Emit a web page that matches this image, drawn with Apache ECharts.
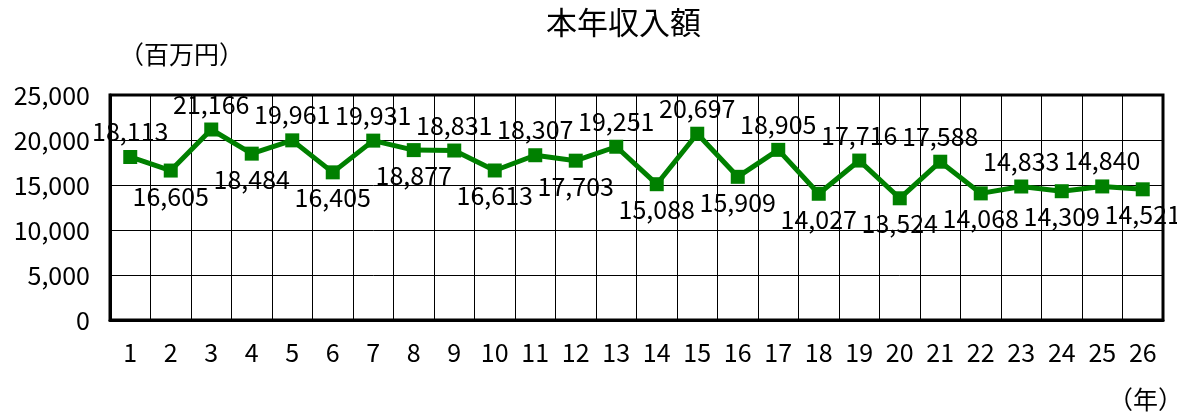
<!DOCTYPE html>
<html>
<head>
<meta charset="utf-8">
<script src="https://cdn.jsdelivr.net/npm/echarts@6/dist/echarts.min.js"></script>
<style>
  html, body { margin: 0; padding: 0; background: #fff; }
  #main { width: 1177px; height: 414px; }
</style>
</head>
<body>
<div id="main"></div>
<script>
// 年（カテゴリ）
var years = ['1','2','3','4','5','6','7','8','9','10','11','12','13','14','15','16','17','18','19','20','21','22','23','24','25','26'];
// 本年収入額（百万円）
var income = [18113,16605,21166,18484,19961,16405,19931,18877,18831,16613,18307,17703,19251,15088,20697,15909,18905,14027,17716,13524,17588,14068,14833,14309,14840,14521];
var yTicks = [0, 5000, 10000, 15000, 20000, 25000];

var font = '"Noto Sans CJK JP", "Noto Sans", sans-serif';
var chart = echarts.init(document.getElementById('main'));

// 奇数番目は上、偶数番目は下にラベル
var seriesData = income.map(function (v, i) {
  return {
    value: v,
    label: { position: i % 2 === 0 ? 'top' : 'bottom' }
  };
});

var option = {
  backgroundColor: '#fff',
  animation: false,
  title: [
    { text: '本年収入額', left: 541, top: 2,
      textStyle: { fontFamily: font, fontSize: 31, fontWeight: 'normal', color: '#000' } },
    { text: '（百万円）', left: 114, top: 37,
      textStyle: { fontFamily: font, fontSize: 25, fontWeight: 'normal', color: '#000' } },
    { text: '（年）', left: 1103, top: 382,
      textStyle: { fontFamily: font, fontSize: 25, fontWeight: 'normal', color: '#000' } }
  ],
  grid: {
    left: 110, right: 14, top: 95, bottom: 94,
    show: true, borderColor: '#000', borderWidth: 3,
    containLabel: false
  },
  xAxis: {
    type: 'category',
    data: years,
    boundaryGap: true,
    axisLine: { show: true, lineStyle: { color: '#000', width: 3 } },
    axisTick: { show: false },
    splitLine: { show: true, interval: 0, lineStyle: { color: '#000', width: 1 } },
    axisLabel: { interval: 0, margin: 20, color: '#000', fontFamily: font, fontSize: 25 }
  },
  yAxis: {
    type: 'value',
    min: yTicks[0],
    max: yTicks[yTicks.length - 1],
    interval: 5000,
    axisLine: { show: true, lineStyle: { color: '#000', width: 3 } },
    axisTick: { show: false },
    splitLine: { show: true, lineStyle: { color: '#000', width: 1 } },
    axisLabel: {
      margin: 20, color: '#000', fontFamily: font, fontSize: 25,
      formatter: function (v) { return v.toLocaleString('en-US'); }
    }
  },
  series: [{
    type: 'line',
    data: seriesData,
    symbol: 'rect',
    symbolSize: 14,
    lineStyle: { color: '#008000', width: 5 },
    itemStyle: { color: '#008000' },
    label: {
      show: true,
      distance: 6,
      color: '#000',
      fontFamily: font,
      fontSize: 25,
      formatter: function (p) { return p.value.toLocaleString('en-US'); }
    },
    labelLayout: { hideOverlap: false }
  }]
};

chart.setOption(option);
</script>
</body>
</html>
